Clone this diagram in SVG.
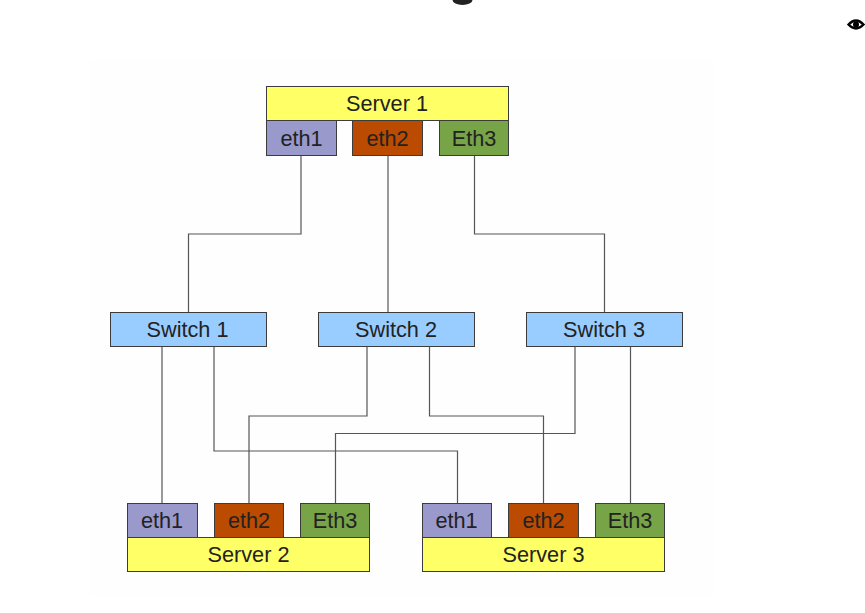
<svg xmlns="http://www.w3.org/2000/svg" width="865" height="613" viewBox="0 0 865 613">
<style>
.b{stroke:#3c3c3c;stroke-width:1}
.s{fill:#ffff66}.p{fill:#9999cc}.r{fill:#bb4b00}.g{fill:#77a447}.w{fill:#99ccff}
text{font-family:"Liberation Sans",Arial,sans-serif;font-size:21.7px;fill:#222;text-anchor:middle}
#connectors path{fill:none;stroke:#555;stroke-width:1.2}
</style>
<rect width="865" height="613" fill="#fff"/>
<rect x="90" y="60" width="624" height="536" fill="#fefefe"/>
<path d="M452.500 0a10 5 0 0 0 20 0z" fill="#222"/>
<g id="eye"><path d="M848.500 24.500Q856 16.500 863.500 24.500Q856 32.500 848.500 24.500z" fill="#fff" stroke="#000" stroke-width="2.400"/><circle cx="856" cy="24.500" r="3" fill="#000"/></g>
<g id="connectors">
<path d="M301 155.500V234H188.500V312"/>
<path d="M388 155.500V312"/>
<path d="M474.500 155.500V234H604.500V312"/>
<path d="M162 346.500V503"/>
<path d="M214 346.500V451H457.500V503"/>
<path d="M367 346.500V416H249V503"/>
<path d="M429.500 346.500V416H543.500V503"/>
<path d="M575 346.500V433.500H335.500V503"/>
<path d="M630.500 346.500V503"/>
</g>
<g id="server1"><rect class="b s" x="266.500" y="86.500" width="242" height="34"/><text x="387" y="111">Server 1</text></g>
<g id="server1-eth1"><rect class="b p" x="266.500" y="120.500" width="70" height="35"/><text x="301.500" y="146">eth1</text></g>
<g id="server1-eth2"><rect class="b r" x="352.500" y="120.500" width="70" height="35"/><text x="387.500" y="146">eth2</text></g>
<g id="server1-eth3"><rect class="b g" x="439.500" y="120.500" width="69" height="35"/><text x="474" y="146">Eth3</text></g>
<g id="switch1"><rect class="b w" x="110.500" y="312.500" width="156" height="34"/><text x="187.500" y="336.500">Switch 1</text></g>
<g id="switch2"><rect class="b w" x="318.500" y="312.500" width="156" height="34"/><text x="396" y="336.500">Switch 2</text></g>
<g id="switch3"><rect class="b w" x="526.500" y="312.500" width="156" height="34"/><text x="604" y="336.500">Switch 3</text></g>
<g id="server2"><rect class="b s" x="127.500" y="537.500" width="242" height="34"/><text x="248.500" y="562">Server 2</text></g>
<g id="server2-eth1"><rect class="b p" x="127.500" y="503.500" width="70" height="34"/><text x="162" y="528">eth1</text></g>
<g id="server2-eth2"><rect class="b r" x="214.500" y="503.500" width="69" height="34"/><text x="249" y="528">eth2</text></g>
<g id="server2-eth3"><rect class="b g" x="300.500" y="503.500" width="69" height="34"/><text x="335" y="528">Eth3</text></g>
<g id="server3"><rect class="b s" x="422.500" y="537.500" width="242" height="34"/><text x="543.500" y="562">Server 3</text></g>
<g id="server3-eth1"><rect class="b p" x="422.500" y="503.500" width="69" height="34"/><text x="456.500" y="528">eth1</text></g>
<g id="server3-eth2"><rect class="b r" x="508.500" y="503.500" width="70" height="34"/><text x="543.500" y="528">eth2</text></g>
<g id="server3-eth3"><rect class="b g" x="595.500" y="503.500" width="69" height="34"/><text x="630" y="528">Eth3</text></g>
</svg>
